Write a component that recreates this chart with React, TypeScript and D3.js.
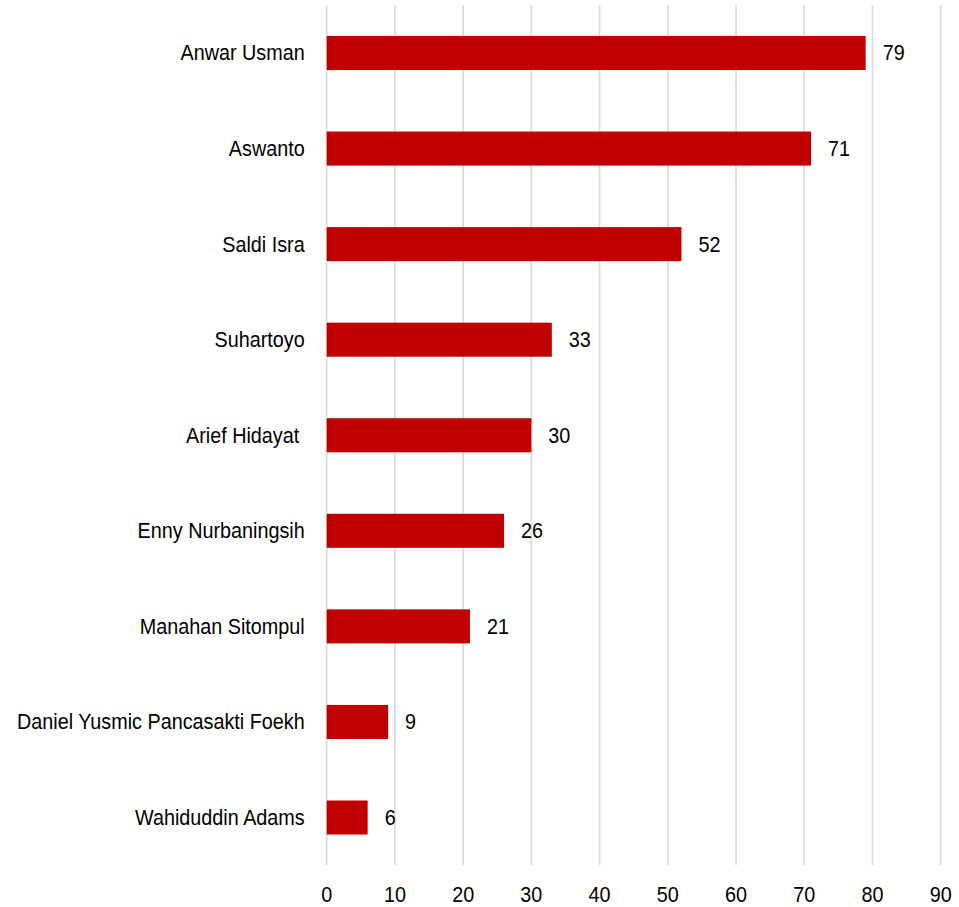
import React from "react";
import * as d3 from "d3";

const names = [
  "Anwar Usman",
  "Aswanto",
  "Saldi Isra",
  "Suhartoyo",
  "Arief Hidayat ",
  "Enny Nurbaningsih",
  "Manahan Sitompul",
  "Daniel Yusmic Pancasakti Foekh",
  "Wahiduddin Adams",
];
const values = [79, 71, 52, 33, 30, 26, 21, 9, 6];
const ticks = [0, 10, 20, 30, 40, 50, 60, 70, 80, 90];

const W = 959;
const H = 907;
const FONT = "'Liberation Sans', Arial, sans-serif";
const FS = 22;
const SX = 0.9;

export default function App() {
  const x = d3.scaleLinear().domain([0, 90]).range([326.7, 940.7]);
  const y = d3
    .scaleBand<string>()
    .domain(names)
    .range([5.2, 865.3])
    .paddingInner(0.644)
    .paddingOuter(0.322);

  return (
    <div style={{ position: "fixed", left: 0, top: 0 }}>
      <svg width={W} height={H} style={{ display: "block", background: "#fff" }}>
        {ticks.map((t) => (
          <line
            key={"g" + t}
            x1={x(t)}
            x2={x(t)}
            y1={5}
            y2={865}
            stroke="#d9d9d9"
            strokeWidth={1.6}
          />
        ))}
        {names.map((n, i) => {
          const yy = y(n)!;
          const bw = y.bandwidth();
          const cy = yy + bw / 2 - 0.5;
          return (
            <g key={n}>
              <rect x={x(0)} y={yy} width={x(values[i]) - x(0)} height={bw} fill="#c00000" />
              <text
                transform={`translate(${x(0) - 22},${cy}) scale(${SX},1)`}
                textAnchor="end"
                dominantBaseline="central"
                fontFamily={FONT}
                fontSize={FS}
                fill="#000"
                style={{ whiteSpace: "pre" }}
              >
                {n}
              </text>
              <text
                transform={`translate(${x(values[i]) + 17},${cy}) scale(${SX},1)`}
                textAnchor="start"
                dominantBaseline="central"
                fontFamily={FONT}
                fontSize={FS}
                fill="#000"
              >
                {values[i]}
              </text>
            </g>
          );
        })}
        {ticks.map((t) => (
          <text
            key={"t" + t}
            transform={`translate(${x(t)},902) scale(${SX},1)`}
            textAnchor="middle"
            fontFamily={FONT}
            fontSize={FS}
            fill="#000"
          >
            {t}
          </text>
        ))}
      </svg>
    </div>
  );
}
